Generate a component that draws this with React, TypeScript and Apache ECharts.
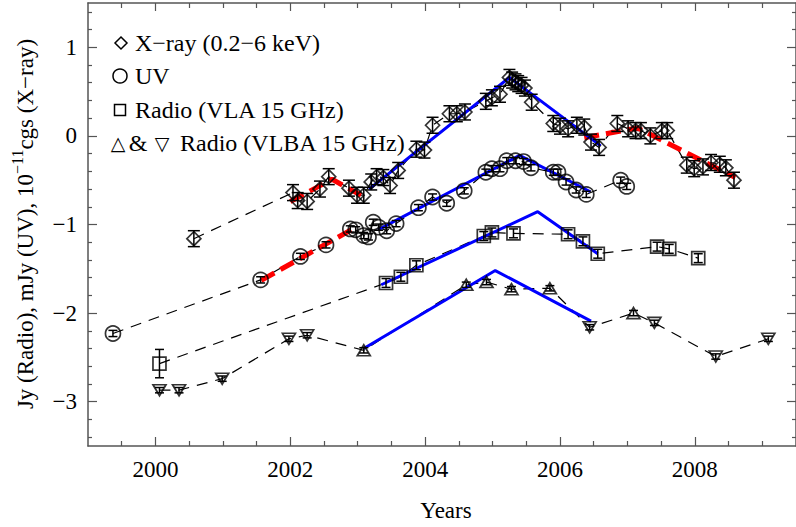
import React, { useEffect, useRef } from "react";
import * as echarts from "echarts";

// ---- Data (year, value) ----
const xray: number[][] = [
  [2000.57, -1.16],
  [2002.04, -0.64], [2002.11, -0.73], [2002.25, -0.74], [2002.44, -0.6], [2002.57, -0.46],
  [2002.87, -0.59], [2002.99, -0.67], [2003.09, -0.67], [2003.2, -0.52], [2003.28, -0.46],
  [2003.38, -0.47], [2003.48, -0.56], [2003.6, -0.39], [2003.87, -0.15], [2003.99, -0.16],
  [2004.11, 0.12], [2004.36, 0.25], [2004.47, 0.25], [2004.59, 0.27], [2004.9, 0.39],
  [2004.99, 0.43], [2005.11, 0.47], [2005.25, 0.66], [2005.29, 0.63], [2005.34, 0.61],
  [2005.38, 0.59], [2005.43, 0.57], [2005.48, 0.54], [2005.58, 0.38], [2005.9, 0.14],
  [2006.0, 0.11], [2006.12, 0.08], [2006.25, 0.12], [2006.36, 0.1], [2006.46, -0.07],
  [2006.58, -0.13], [2006.85, 0.14], [2007.01, 0.08], [2007.12, 0.06], [2007.2, 0.06],
  [2007.34, 0.0], [2007.51, 0.06], [2007.59, 0.06], [2007.88, -0.33], [2007.99, -0.37],
  [2008.12, -0.35], [2008.24, -0.3], [2008.37, -0.32], [2008.46, -0.36], [2008.58, -0.5],
];
const XRAY_ERR = 0.09;

const uv: number[][] = [
  [1999.37, -2.23], [2001.56, -1.625], [2002.15, -1.36], [2002.53, -1.23], [2002.89, -1.05],
  [2002.97, -1.06], [2003.09, -1.125], [2003.16, -1.14], [2003.23, -0.975], [2003.31, -1.03],
  [2003.43, -1.07], [2003.57, -0.99], [2003.9, -0.81], [2004.11, -0.69], [2004.32, -0.76],
  [2004.58, -0.62], [2004.9, -0.41], [2004.99, -0.37], [2005.11, -0.37], [2005.21, -0.28],
  [2005.34, -0.28], [2005.46, -0.29], [2005.57, -0.36], [2005.9, -0.41], [2005.97, -0.41],
  [2006.09, -0.52], [2006.24, -0.61], [2006.39, -0.66], [2006.9, -0.5], [2006.99, -0.57],
];
const UV_ERR = 0.035;

const vla: number[][] = [
  [2000.06, -2.57], [2003.42, -1.66], [2003.64, -1.59], [2003.87, -1.46], [2004.87, -1.13],
  [2004.99, -1.09], [2005.31, -1.1], [2006.12, -1.11], [2006.34, -1.19], [2006.56, -1.33],
  [2007.44, -1.25], [2007.62, -1.275], [2008.05, -1.38],
];
const vlaErr: number[] = [0.16, 0.05, 0.05, 0.05, 0.05, 0.05, 0.05, 0.05, 0.05, 0.05, 0.05, 0.05, 0.05];

const vlbaUp: number[][] = [
  [2003.09, -2.42], [2004.61, -1.68], [2004.91, -1.65], [2005.28, -1.73], [2005.85, -1.72], [2007.09, -2.0],
];
const vlbaDown: number[][] = [
  [2000.06, -2.87], [2000.35, -2.87], [2000.99, -2.74], [2001.98, -2.29], [2002.25, -2.25],
  [2006.44, -2.16], [2007.4, -2.11], [2008.31, -2.49], [2009.09, -2.29],
];
const VLBA_ERR = 0.03;

// piecewise fits
const xrayRed1: number[][] = [[2002.0, -0.74], [2002.62, -0.49], [2003.05, -0.67]];
const xrayBlue: number[][] = [[2003.17, -0.6], [2005.25, 0.66], [2006.6, -0.11]];
const xrayRed2: number[][] = [[2006.36, -0.02], [2007.15, 0.09], [2008.6, -0.47]];
const uvRed: number[][] = [[2001.57, -1.63], [2002.95, -1.04]];
const uvBlue: number[][] = [[2003.3, -1.06], [2005.4, -0.22], [2006.45, -0.63]];
const vlaBlue: number[][] = [[2003.35, -1.68], [2005.67, -0.855], [2006.56, -1.33]];
const vlbaBlue: number[][] = [[2003.09, -2.4], [2005.04, -1.52], [2006.46, -2.09]];

// ticks
const majorX = [2000, 2002, 2004, 2006, 2008];
const minorX = [1999.5, 2000.5, 2001, 2001.5, 2002.5, 2003, 2003.5, 2004.5, 2005, 2005.5, 2006.5, 2007, 2007.5, 2008.5, 2009];
const majorY = [-3, -2, -1, 0, 1];
const minorY = [-3.4, -3.2, -2.8, -2.6, -2.4, -2.2, -1.8, -1.6, -1.4, -1.2, -0.8, -0.6, -0.4, -0.2, 0.2, 0.4, 0.6, 0.8, 1.2, 1.4];

const FONT = "Liberation Serif";
const FRAME = "#555";

const fmt = (v: number) => (v < 0 ? "\u2212" + Math.abs(v) : String(v));

function errSeries(data: number[][], capW: number) {
  return {
    type: "custom",
    xAxisIndex: 0,
    yAxisIndex: 0,
    z: 4,
    silent: true,
    data,
    renderItem: (params: any, api: any) => {
      const x = api.value(0), y = api.value(1), e = api.value(2);
      const t = api.coord([x, y + e]);
      const b = api.coord([x, y - e]);
      const h = capW / 2;
      const st = { stroke: "#000", lineWidth: 1.5 };
      return {
        type: "group",
        children: [
          { type: "line", shape: { x1: t[0], y1: t[1], x2: b[0], y2: b[1] }, style: st },
          { type: "line", shape: { x1: t[0] - h, y1: t[1], x2: t[0] + h, y2: t[1] }, style: st },
          { type: "line", shape: { x1: b[0] - h, y1: b[1], x2: b[0] + h, y2: b[1] }, style: st },
        ],
      };
    },
  };
}

function dashLine(data: number[][]) {
  return {
    type: "line", xAxisIndex: 0, yAxisIndex: 0, data, showSymbol: false, silent: true, z: 2,
    lineStyle: { color: "#000", width: 1.2, type: [11, 8] },
  };
}
function fitLine(data: number[][], red: boolean) {
  return {
    type: "line", xAxisIndex: 0, yAxisIndex: 0, data, showSymbol: false, silent: true, z: 3,
    lineStyle: red ? { color: "#ff0000", width: 5, type: [15, 7] } : { color: "#0000ff", width: 3, type: "solid" },
  };
}
function markers(data: number[][], symbol: string, size: any, rotate = 0) {
  return {
    type: "scatter", xAxisIndex: 0, yAxisIndex: 0, data, symbol, symbolSize: size, symbolRotate: rotate, z: 5,
    itemStyle: { color: "rgba(0,0,0,0)", borderColor: "#000", borderWidth: 1.7 },
  };
}

export default function App() {
  const ref = useRef<HTMLDivElement>(null);
  useEffect(() => {
    document.body.style.margin = "0";
    const chart = echarts.init(ref.current!, null, { renderer: "svg" });
    const vlbaAll = [...vlbaUp, ...vlbaDown].sort((a, b) => a[0] - b[0]);
    const gridRect = { left: 88, right: -7, top: 3, bottom: 81 };
    const baseX = { type: "value", min: 1999, max: 2009.5, splitLine: { show: false } };
    const baseY = { type: "value", min: -3.5, max: 1.5, splitLine: { show: false } };
    const line = { show: true, onZero: false, lineStyle: { color: FRAME, width: 1.5 } };
    const noLine = { show: false, onZero: false };
    const tickStyle = { color: FRAME, width: 1.2 };
    const labelStyle = { color: "#000", fontSize: 23, fontFamily: FONT };
    const option: any = {
      animation: false,
      backgroundColor: "#fff",
      textStyle: { fontFamily: FONT },
      grid: [gridRect, gridRect].map((g) => ({ ...g, containLabel: false })),
      xAxis: [
        {
          ...baseX, gridIndex: 0, position: "bottom", axisLine: line,
          axisTick: { inside: true, length: 9, customValues: majorX, lineStyle: tickStyle },
          axisLabel: { customValues: majorX, formatter: fmt, ...labelStyle, margin: 12 },
        },
        {
          ...baseX, gridIndex: 0, position: "top", axisLine: line,
          axisTick: { inside: true, length: 8, customValues: majorX, lineStyle: tickStyle },
          axisLabel: { show: false },
        },
        {
          ...baseX, gridIndex: 1, position: "bottom", axisLine: noLine,
          axisTick: { inside: true, length: 5, customValues: minorX, lineStyle: tickStyle },
          axisLabel: { show: false },
        },
        {
          ...baseX, gridIndex: 1, position: "top", axisLine: noLine,
          axisTick: { inside: true, length: 5, customValues: minorX, lineStyle: tickStyle },
          axisLabel: { show: false },
        },
      ],
      yAxis: [
        {
          ...baseY, gridIndex: 0, position: "left", axisLine: line,
          axisTick: { inside: true, length: 9, customValues: majorY, lineStyle: tickStyle },
          axisLabel: { customValues: majorY, formatter: fmt, ...labelStyle, margin: 11 },
        },
        {
          ...baseY, gridIndex: 0, position: "right", axisLine: line,
          axisTick: { inside: true, length: 9, customValues: majorY, lineStyle: tickStyle },
          axisLabel: { show: false },
        },
        {
          ...baseY, gridIndex: 1, position: "left", axisLine: noLine,
          axisTick: { inside: true, length: 4, customValues: minorY, lineStyle: tickStyle },
          axisLabel: { show: false },
        },
        {
          ...baseY, gridIndex: 1, position: "right", axisLine: noLine,
          axisTick: { inside: true, length: 4, customValues: minorY, lineStyle: tickStyle },
          axisLabel: { show: false },
        },
      ],
      graphic: [
        {
          type: "text", x: 446, y: 510,
          style: { text: "Years", fontSize: 23, fontFamily: FONT, fill: "#000", align: "center", verticalAlign: "middle" },
        },
        {
          type: "text", x: 23, y: 224, rotation: Math.PI / 2,
          style: {
            text: "{n|Jy (Radio), mJy (UV), 10}{s|\u221211}{n|cgs (X\u2212ray)}",
            align: "center", verticalAlign: "middle",
            rich: {
              n: { fontSize: 23, fontFamily: FONT, fill: "#000", lineHeight: 28, verticalAlign: "bottom" },
              s: { fontSize: 16, fontFamily: FONT, fill: "#000", lineHeight: 28, verticalAlign: "top", padding: [0, 0, 8, 0] },
            },
          },
        },
        // legend
        { type: "polygon", shape: { points: [[121, 37], [127, 43], [121, 49], [115, 43]] }, style: { fill: "none", stroke: "#000", lineWidth: 1.5 } },
        { type: "text", x: 135, y: 43, style: { text: "X\u2212ray (0.2\u22126 keV)", fontSize: 24, fontFamily: FONT, fill: "#000", verticalAlign: "middle" } },
        { type: "circle", shape: { cx: 120, cy: 76, r: 7 }, style: { fill: "none", stroke: "#000", lineWidth: 1.5 } },
        { type: "text", x: 135, y: 76, style: { text: "UV", fontSize: 24, fontFamily: FONT, fill: "#000", verticalAlign: "middle" } },
        { type: "rect", shape: { x: 114.5, y: 104.5, width: 11, height: 11 }, style: { fill: "none", stroke: "#000", lineWidth: 1.5 } },
        { type: "text", x: 135, y: 110, style: { text: "Radio (VLA 15 GHz)", fontSize: 24, fontFamily: FONT, fill: "#000", verticalAlign: "middle" } },
        { type: "text", x: 118, y: 143, style: { text: "\u25B3", fontSize: 19, fontFamily: "DejaVu Sans", fill: "#000", align: "center", verticalAlign: "middle" } },
        { type: "text", x: 138, y: 143, style: { text: "&", fontSize: 24, fontFamily: FONT, fill: "#000", align: "center", verticalAlign: "middle" } },
        { type: "text", x: 162, y: 143, style: { text: "\u25BD", fontSize: 19, fontFamily: "DejaVu Sans", fill: "#000", align: "center", verticalAlign: "middle" } },
        { type: "text", x: 180, y: 143, style: { text: "Radio (VLBA 15 GHz)", fontSize: 24, fontFamily: FONT, fill: "#000", verticalAlign: "middle" } },
      ],
      series: [
        dashLine(xray),
        dashLine(uv),
        dashLine(vla),
        dashLine(vlbaAll),
        fitLine(xrayRed1, true),
        fitLine(xrayRed2, true),
        fitLine(uvRed, true),
        fitLine(xrayBlue, false),
        fitLine(uvBlue, false),
        fitLine(vlaBlue, false),
        fitLine(vlbaBlue, false),
        errSeries(xray.map((p) => [p[0], p[1], XRAY_ERR]), 12),
        errSeries(uv.map((p) => [p[0], p[1], UV_ERR]), 9),
        errSeries(vla.map((p, i) => [p[0], p[1], vlaErr[i]]), 9),
        errSeries([...vlbaUp, ...vlbaDown].map((p) => [p[0], p[1], VLBA_ERR]), 9),
        markers(xray, "diamond", 14),
        markers(uv, "circle", 15),
        markers(vla, "rect", 13),
        markers(vlbaUp, "triangle", [13, 11]),
        markers(vlbaDown, "triangle", [13, 11], 180),
      ],
    };
    chart.setOption(option);
    return () => chart.dispose();
  }, []);
  return <div ref={ref} style={{ width: 796, height: 527 }} />;
}
